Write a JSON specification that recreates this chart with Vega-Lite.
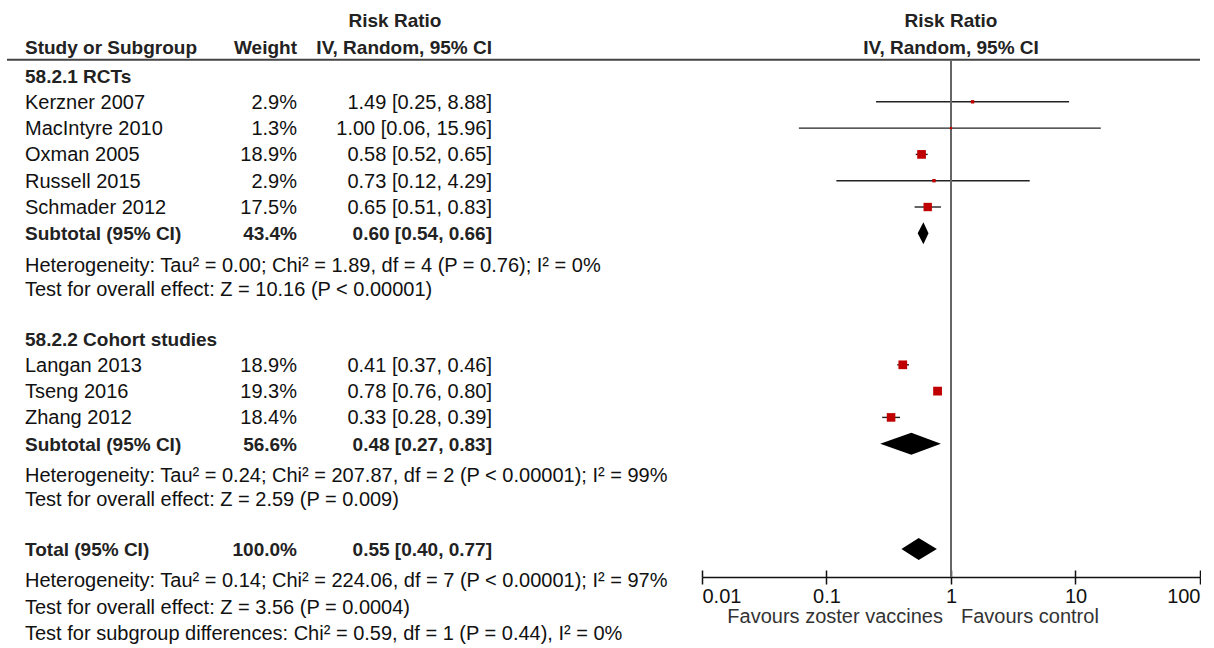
{
  "$schema": "https://vega.github.io/schema/vega-lite/v6.json",
  "padding": 0,
  "background": "white",
  "spacing": 0,
  "bounds": "flush",
  "config": {"view": {"stroke": null}, "concat": {"spacing": 0}, "text": {"font": "Liberation Sans"}},
  "datasets": {
    "rows": [
      {"type": "header2", "ci": "Risk Ratio", "row": -2.1},
      {"type": "header", "label": "Study or Subgroup", "weight": "Weight", "ci": "IV, Random, 95% CI", "row": -1.1},
      {"type": "section", "label": "58.2.1 RCTs", "row": 0},
      {"type": "study", "label": "Kerzner 2007", "weight": "2.9%", "w": 2.9, "ci": "1.49 [0.25, 8.88]", "est": 1.49, "lo": 0.25, "hi": 8.88, "row": 1},
      {"type": "study", "label": "MacIntyre 2010", "weight": "1.3%", "w": 1.3, "ci": "1.00 [0.06, 15.96]", "est": 1.0, "lo": 0.06, "hi": 15.96, "row": 2},
      {"type": "study", "label": "Oxman 2005", "weight": "18.9%", "w": 18.9, "ci": "0.58 [0.52, 0.65]", "est": 0.58, "lo": 0.52, "hi": 0.65, "row": 3},
      {"type": "study", "label": "Russell 2015", "weight": "2.9%", "w": 2.9, "ci": "0.73 [0.12, 4.29]", "est": 0.73, "lo": 0.12, "hi": 4.29, "row": 4},
      {"type": "study", "label": "Schmader 2012", "weight": "17.5%", "w": 17.5, "ci": "0.65 [0.51, 0.83]", "est": 0.65, "lo": 0.51, "hi": 0.83, "row": 5},
      {"type": "subtotal", "label": "Subtotal (95% CI)", "weight": "43.4%", "ci": "0.60 [0.54, 0.66]", "est": 0.6, "lo": 0.54, "hi": 0.66, "row": 6},
      {"type": "stat", "label": "Heterogeneity: Tau² = 0.00; Chi² = 1.89, df = 4 (P = 0.76); I² = 0%", "row": 7.2},
      {"type": "stat", "label": "Test for overall effect: Z = 10.16 (P < 0.00001)", "row": 8.1},
      {"type": "section", "label": "58.2.2 Cohort studies", "row": 10},
      {"type": "study", "label": "Langan 2013", "weight": "18.9%", "w": 18.9, "ci": "0.41 [0.37, 0.46]", "est": 0.41, "lo": 0.37, "hi": 0.46, "row": 11},
      {"type": "study", "label": "Tseng 2016", "weight": "19.3%", "w": 19.3, "ci": "0.78 [0.76, 0.80]", "est": 0.78, "lo": 0.76, "hi": 0.8, "row": 12},
      {"type": "study", "label": "Zhang 2012", "weight": "18.4%", "w": 18.4, "ci": "0.33 [0.28, 0.39]", "est": 0.33, "lo": 0.28, "hi": 0.39, "row": 13},
      {"type": "subtotal", "label": "Subtotal (95% CI)", "weight": "56.6%", "ci": "0.48 [0.27, 0.83]", "est": 0.48, "lo": 0.27, "hi": 0.83, "row": 14},
      {"type": "stat", "label": "Heterogeneity: Tau² = 0.24; Chi² = 207.87, df = 2 (P < 0.00001); I² = 99%", "row": 15.2},
      {"type": "stat", "label": "Test for overall effect: Z = 2.59 (P = 0.009)", "row": 16.1},
      {"type": "total", "label": "Total (95% CI)", "weight": "100.0%", "ci": "0.55 [0.40, 0.77]", "est": 0.55, "lo": 0.4, "hi": 0.77, "row": 18},
      {"type": "stat", "label": "Heterogeneity: Tau² = 0.14; Chi² = 224.06, df = 7 (P < 0.00001); I² = 97%", "row": 19.2},
      {"type": "stat", "label": "Test for overall effect: Z = 3.56 (P = 0.0004)", "row": 20.2},
      {"type": "stat", "label": "Test for subgroup differences: Chi² = 0.59, df = 1 (P = 0.44), I² = 0%", "row": 21.2}
    ],
    "notes": [
      {"note": "Favours zoster vaccines", "side": "left"},
      {"note": "Favours control", "side": "right"}
    ]
  },
  "data": {"name": "rows"},
  "hconcat": [
    {
      "width": 702,
      "height": 648,
      "layer": [
        {
          "data": {"values": [{}]},
          "mark": {"type": "rule", "color": "#444", "strokeWidth": 2},
          "encoding": {
            "x": {"datum": 7, "type": "quantitative", "axis": null, "scale": {"domain": [0, 702], "nice": false, "zero": false}},
            "x2": {"datum": 702},
            "y": {"datum": -0.6, "type": "quantitative", "axis": null,
                  "scale": {"domain": [-2.871, 21.768], "reverse": true, "zero": false, "nice": false}}
          }
        },
        {
          "transform": [{"filter": {"field": "type", "oneOf": ["study", "stat"]}}],
          "mark": {"type": "text", "align": "left", "baseline": "middle", "fontSize": 20, "color": "#111", "dy": 1},
          "encoding": {
            "x": {"datum": 25, "type": "quantitative", "axis": null},
            "y": {"field": "row", "type": "quantitative", "axis": null},
            "text": {"field": "label"}
          }
        },
        {
          "transform": [{"filter": {"field": "type", "oneOf": ["section", "subtotal", "total", "header"]}}],
          "mark": {"type": "text", "align": "left", "baseline": "middle", "fontSize": 19, "fontWeight": "bold", "color": "#222", "dy": 1},
          "encoding": {
            "x": {"datum": 25, "type": "quantitative", "axis": null},
            "y": {"field": "row", "type": "quantitative", "axis": null},
            "text": {"field": "label"}
          }
        },
        {
          "transform": [{"filter": {"field": "type", "oneOf": ["study"]}}],
          "mark": {"type": "text", "align": "right", "baseline": "middle", "fontSize": 20, "color": "#111", "dy": 1},
          "encoding": {
            "x": {"datum": 297, "type": "quantitative", "axis": null},
            "y": {"field": "row", "type": "quantitative", "axis": null},
            "text": {"field": "weight"}
          }
        },
        {
          "transform": [{"filter": {"field": "type", "oneOf": ["subtotal", "total", "header"]}}],
          "mark": {"type": "text", "align": "right", "baseline": "middle", "fontSize": 19, "fontWeight": "bold", "color": "#222", "dy": 1},
          "encoding": {
            "x": {"datum": 297, "type": "quantitative", "axis": null},
            "y": {"field": "row", "type": "quantitative", "axis": null},
            "text": {"field": "weight"}
          }
        },
        {
          "transform": [{"filter": {"field": "type", "oneOf": ["study"]}}],
          "mark": {"type": "text", "align": "right", "baseline": "middle", "fontSize": 20, "color": "#111", "dy": 1},
          "encoding": {
            "x": {"datum": 492, "type": "quantitative", "axis": null},
            "y": {"field": "row", "type": "quantitative", "axis": null},
            "text": {"field": "ci"}
          }
        },
        {
          "transform": [{"filter": {"field": "type", "oneOf": ["subtotal", "total", "header"]}}],
          "mark": {"type": "text", "align": "right", "baseline": "middle", "fontSize": 19, "fontWeight": "bold", "color": "#222", "dy": 1},
          "encoding": {
            "x": {"datum": 492, "type": "quantitative", "axis": null},
            "y": {"field": "row", "type": "quantitative", "axis": null},
            "text": {"field": "ci"}
          }
        },
        {
          "transform": [{"filter": {"field": "type", "oneOf": ["header2"]}}],
          "mark": {"type": "text", "align": "center", "baseline": "middle", "fontSize": 19, "fontWeight": "bold", "color": "#222", "dy": 1},
          "encoding": {
            "x": {"datum": 395, "type": "quantitative", "axis": null},
            "y": {"field": "row", "type": "quantitative", "axis": null},
            "text": {"field": "ci"}
          }
        }
      ]
    },
    {
      "width": 498,
      "height": 577,
      "resolve": {"axis": {"x": "independent", "y": "independent"}},
      "layer": [
        {
          "transform": [{"filter": {"field": "type", "oneOf": ["study"]}}],
          "mark": {"type": "rule", "color": "#222", "strokeWidth": 1.4},
          "encoding": {
            "x": {"field": "lo", "type": "quantitative",
                  "scale": {"type": "log", "domain": [0.01, 100], "nice": false},
                  "axis": {"orient": "bottom", "values": [0.01, 0.1, 1, 10, 100], "format": "~g", "title": null, "grid": false,
                           "domainColor": "#111", "domainWidth": 1.5, "tickColor": "#111", "tickWidth": 1.5, "tickSize": 7,
                           "labelFont": "Liberation Sans", "labelFontSize": 20, "labelColor": "#111", "labelFlush": true, "labelPadding": 2}},
            "x2": {"field": "hi"},
            "y": {"field": "row", "type": "quantitative", "axis": null,
                  "scale": {"domain": [-2.871, 19.068], "reverse": true, "zero": false, "nice": false}}
          }
        },
        {
          "data": {"values": [{}]},
          "mark": {"type": "rule", "color": "#444", "strokeWidth": 2},
          "encoding": {
            "y": {"datum": -0.6, "type": "quantitative", "axis": null}
          }
        },
        {
          "data": {"values": [{}]},
          "mark": {"type": "rule", "color": "#666", "strokeWidth": 2},
          "encoding": {
            "x": {"datum": 1, "type": "quantitative",
                  "axis": {"orient": "bottom", "values": [0.01, 0.1, 1, 10, 100], "title": null, "grid": false, "labels": false,
                           "domain": false, "tickColor": "#111", "tickWidth": 1.5, "tickSize": -7}},
            "y": {"datum": -0.6, "type": "quantitative", "axis": null},
            "y2": {"datum": 19.068}
          }
        },
        {
          "transform": [{"filter": {"field": "type", "oneOf": ["study"]}}],
          "mark": {"type": "point", "shape": "square", "filled": true, "color": "#c00000", "opacity": 1},
          "encoding": {
            "x": {"field": "est", "type": "quantitative", "axis": null},
            "y": {"field": "row", "type": "quantitative", "axis": null},
            "size": {"field": "w", "type": "quantitative", "legend": null, "scale": {"domain": [0, 20], "range": [0, 80]}}
          }
        },
        {
          "transform": [{"filter": {"field": "type", "oneOf": ["subtotal", "total"]}}],
          "mark": {"type": "point", "filled": true, "color": "#000", "opacity": 1, "size": 484},
          "encoding": {
            "x": {"field": "est", "type": "quantitative", "axis": null},
            "y": {"field": "row", "type": "quantitative", "axis": null},
            "shape": {"field": "row", "type": "nominal", "legend": null,
                      "scale": {"domain": [6, 14, 18],
                                "range": ["M-0.518,0L0,-1L0.468,0L0,1Z", "M-2.828,0L0,-1L2.692,0L0,1Z", "M-1.565,0L0,-1L1.654,0L0,1Z"]}}
          }
        },
        {
          "transform": [{"filter": {"field": "type", "oneOf": ["header", "header2"]}}],
          "mark": {"type": "text", "align": "center", "baseline": "middle", "fontSize": 19, "fontWeight": "bold", "color": "#222", "dy": 1},
          "encoding": {
            "x": {"datum": 1, "type": "quantitative", "axis": null},
            "y": {"field": "row", "type": "quantitative", "axis": null},
            "text": {"field": "ci"}
          }
        },
        {
          "data": {"name": "notes"},
          "transform": [{"filter": {"field": "side", "equal": "left"}}],
          "mark": {"type": "text", "align": "right", "baseline": "middle", "fontSize": 20, "color": "#333", "dx": -8},
          "encoding": {
            "x": {"datum": 1, "type": "quantitative", "axis": null},
            "y": {"datum": 20.6, "type": "quantitative", "axis": null},
            "text": {"field": "note"}
          }
        },
        {
          "data": {"name": "notes"},
          "transform": [{"filter": {"field": "side", "equal": "right"}}],
          "mark": {"type": "text", "align": "left", "baseline": "middle", "fontSize": 20, "color": "#333", "dx": 10},
          "encoding": {
            "x": {"datum": 1, "type": "quantitative", "axis": null},
            "y": {"datum": 20.6, "type": "quantitative", "axis": null},
            "text": {"field": "note"}
          }
        }
      ]
    }
  ]
}
